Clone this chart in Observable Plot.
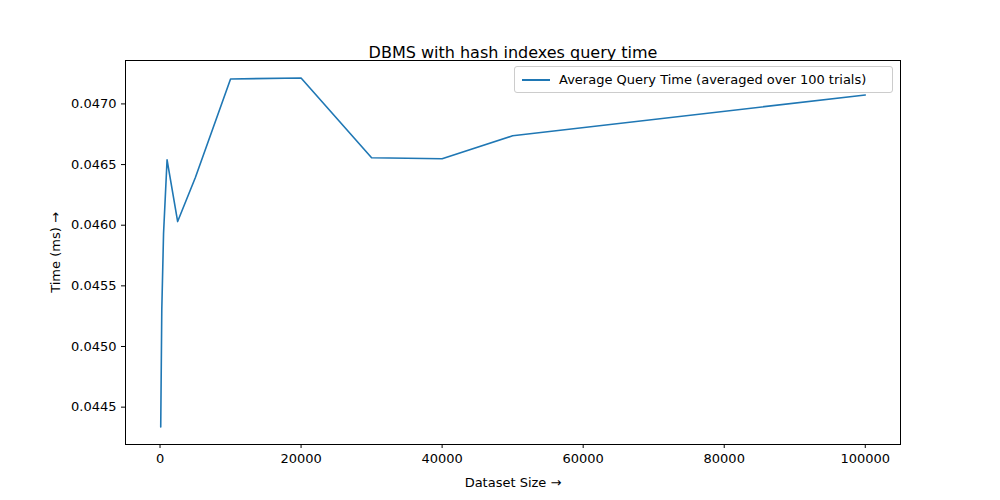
<!DOCTYPE html>
<html><head><meta charset="utf-8">
<script src="https://cdn.jsdelivr.net/npm/d3@7"></script>
<script src="https://cdn.jsdelivr.net/npm/@observablehq/plot@0.6"></script>
<style>body{margin:0;background:#fff;font-family:"DejaVu Sans",sans-serif}#wrap{position:relative;width:1000px;height:500px}
#legend{position:absolute;left:514px;top:66px;width:377px;height:25px;border:1px solid #ccc;border-radius:3px;background:#fff;font-size:13px;display:flex;align-items:center}
#legend span.l{display:inline-block;width:28px;height:0;border-top:2px solid #1f77b4;margin:0 9px 0 7px}</style>
</head><body><div id="wrap"><div id="chart"></div><div id="legend"><span class="l"></span>Average Query Time (averaged over 100 trials)</div></div>
<script>
const sizes = [100, 250, 500, 1000, 2500, 5000, 10000, 20000, 30000, 40000, 50000, 100000];
const times = [0.044336, 0.04530, 0.045931, 0.046539, 0.046030, 0.046391, 0.047206, 0.047214, 0.046556, 0.046548, 0.046737, 0.047074];
const xTicks = [0, 20000, 40000, 60000, 80000, 100000];
const yTicks = [0.0445, 0.0450, 0.0455, 0.0460, 0.0465, 0.0470];
const data = sizes.map((s, i) => ({size: s, time: times[i]}));

let chart = Plot.plot({
  width: 1000, height: 500,
  marginLeft: 125, marginRight: 100, marginTop: 60, marginBottom: 56,
  x: {domain: [-4895, 104995], ticks: xTicks, tickFormat: d => String(d), label: "Dataset Size", labelAnchor: "center", labelOffset: 42, tickSize: 4},
  y: {domain: [0.044192, 0.047358], ticks: yTicks, tickFormat: d => d.toFixed(4), label: "Time (ms)", labelAnchor: "center", labelOffset: 75, tickSize: 4},
  marks: [
    Plot.frame({stroke: "black"}),
    Plot.line(data, {x: "size", y: "time", stroke: "#1f77b4", strokeWidth: 1.6}),
    Plot.text(["DBMS with hash indexes query time"], {frameAnchor: "top", dy: -14, fontSize: 16, fill: "black"})
  ],
  style: {fontFamily: "DejaVu Sans, sans-serif", fontSize: "13px", color: "black", background: "white"}
});
d3.select('#chart').append(() => chart);
</script></body></html>
